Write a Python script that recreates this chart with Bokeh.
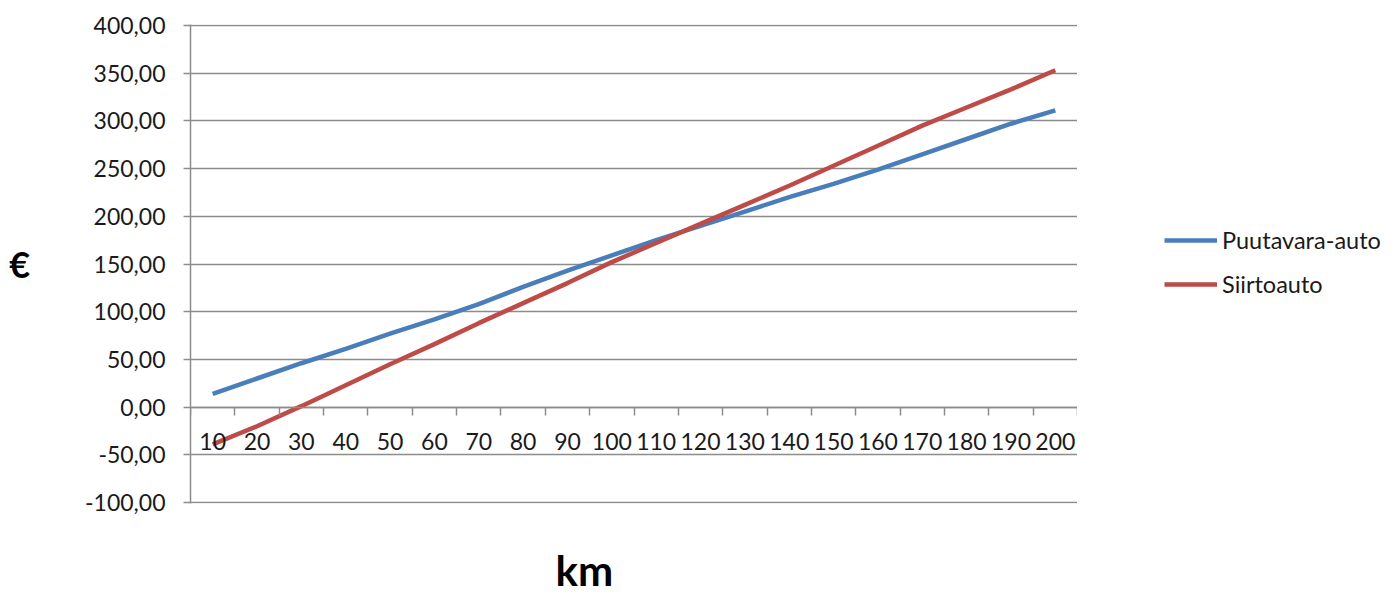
from bokeh.plotting import figure
from bokeh.layouts import row
from bokeh.models import (Range1d, LinearAxis, FixedTicker, CustomJSTickFormatter,
                          Legend, LegendItem, ColumnDataSource)
from bokeh.embed import file_html
from bokeh.resources import INLINE

# ---- data ----
km = ["10", "20", "30", "40", "50", "60", "70", "80", "90", "100",
      "110", "120", "130", "140", "150", "160", "170", "180", "190", "200"]
puutavara_auto = [14, 30, 46, 61, 77, 92, 108, 126, 143, 159,
                  175, 190, 205, 220, 234, 249, 265, 281, 297, 311]
siirtoauto = [-39, -20, 1, 23, 45, 66, 88, 109, 130, 152,
              172, 192, 212, 232, 253, 274, 295, 314, 333, 353]
y_ticks = [-100, -50, 0, 50, 100, 150, 200, 250, 300, 350, 400]
series_names = ["Puutavara-auto", "Siirtoauto"]
x_title = "km"
y_title = "€"

BLUE = "#4A7EBB"
RED = "#BE4B48"
GRID = "#8C8C8C"
TXT = "#1a1a1a"
FONT = "Lato"

# category slots: each category occupies one unit, centred at i + 0.5
slot_centers = [i + 0.5 for i in range(len(km))]
slot_edges = list(range(len(km) + 1))
src = ColumnDataSource(dict(x=slot_centers, km=km, a=puutavara_auto, b=siirtoauto))

p = figure(width=1077, height=597, output_backend="svg", toolbar_location=None,
           x_range=Range1d(0, len(km)), y_range=Range1d(-101, 401),
           min_border_left=190, min_border_right=0, min_border_top=24, min_border_bottom=92,
           x_axis_location=None, y_axis_location=None)
p.outline_line_color = None
p.background_fill_color = "white"
p.border_fill_color = "white"

# y axis
yax = LinearAxis(ticker=FixedTicker(ticks=y_ticks),
                 formatter=CustomJSTickFormatter(code="return tick.toFixed(2).replace('.', ',');"))
yax.axis_line_color = GRID
yax.axis_line_width = 1.5
yax.major_tick_line_color = GRID
yax.major_tick_line_width = 1.5
yax.major_tick_out = 7
yax.major_tick_in = 0
yax.minor_tick_line_color = None
yax.major_label_text_font = FONT
yax.major_label_text_font_size = "23px"
yax.major_label_text_color = TXT
yax.major_label_standoff = 18
yax.axis_label = y_title
yax.axis_label_orientation = "horizontal"
yax.axis_label_text_font = FONT
yax.axis_label_text_font_size = "36px"
yax.axis_label_text_font_style = "bold"
yax.axis_label_text_color = "black"
yax.axis_label_standoff = 52
p.add_layout(yax, "left")

# horizontal gridlines
p.ygrid.ticker = FixedTicker(ticks=y_ticks)
p.ygrid.grid_line_color = GRID
p.ygrid.grid_line_width = 1.5
p.xgrid.grid_line_color = None

# x axis line + tick marks between categories, drawn at y = 0 (ticks pointing down)
tick_ax = LinearAxis(ticker=FixedTicker(ticks=slot_edges), fixed_location=0)
tick_ax.axis_line_color = GRID
tick_ax.axis_line_width = 1.5
tick_ax.major_tick_line_color = GRID
tick_ax.major_tick_line_width = 1.5
tick_ax.major_tick_out = 0
tick_ax.major_tick_in = 8
tick_ax.minor_tick_line_color = None
tick_ax.major_label_text_color = None
tick_ax.major_label_text_font_size = "1px"
p.add_layout(tick_ax, "above")

# category labels centred in each slot, below y = 0
cax = LinearAxis(ticker=FixedTicker(ticks=slot_centers), fixed_location=0,
                 major_label_overrides={c: k for c, k in zip(slot_centers, km)})
cax.axis_line_color = None
cax.major_tick_line_color = None
cax.minor_tick_line_color = None
cax.major_tick_out = 0
cax.major_tick_in = 0
cax.major_label_text_font = FONT
cax.major_label_text_font_size = "23px"
cax.major_label_text_color = TXT
cax.major_label_standoff = -43
p.add_layout(cax, "above")

# x title, drawn as a single tick label placed below the plot
km_title_pos = 8.88
kax = LinearAxis(ticker=FixedTicker(ticks=[km_title_pos]),
                 major_label_overrides={km_title_pos: x_title})
kax.axis_line_color = None
kax.major_tick_line_color = None
kax.minor_tick_line_color = None
kax.major_tick_out = 0
kax.major_tick_in = 0
kax.major_label_standoff = 41
kax.major_label_text_font = FONT
kax.major_label_text_font_size = "42px"
kax.major_label_text_font_style = "bold"
kax.major_label_text_color = "black"
p.add_layout(kax, "below")

p.line(x="x", y="a", source=src, line_color=BLUE, line_width=4.5)
p.line(x="x", y="b", source=src, line_color=RED, line_width=4.5)

# ---- legend panel (separate figure to the right) ----
lg = figure(width=323, height=597, output_backend="svg", toolbar_location=None,
            x_range=Range1d(0, 1), y_range=Range1d(1000, 1001),
            min_border_left=0, min_border_right=0, min_border_top=0, min_border_bottom=0,
            x_axis_location=None, y_axis_location=None)
lg.outline_line_color = None
lg.background_fill_color = "white"
lg.border_fill_color = "white"
lg.xgrid.grid_line_color = None
lg.ygrid.grid_line_color = None
k1 = lg.line(x="x", y="a", source=src, line_color=BLUE, line_width=4.5)
k2 = lg.line(x="x", y="b", source=src, line_color=RED, line_width=4.5)

legend = Legend(items=[LegendItem(label=series_names[0], renderers=[k1]),
                       LegendItem(label=series_names[1], renderers=[k2])],
                location=(87, 205), orientation="vertical")
legend.padding = 0
legend.margin = 0
legend.spacing = 16
legend.glyph_width = 53
legend.glyph_height = 22
legend.label_height = 22
legend.label_standoff = 5
legend.label_text_font = FONT
legend.label_text_font_size = "23.5px"
legend.label_text_color = TXT
legend.border_line_color = None
legend.background_fill_alpha = 0
lg.add_layout(legend, "center")

layout = row(p, lg, spacing=0)
open("out.html", "w").write(file_html(layout, INLINE))
